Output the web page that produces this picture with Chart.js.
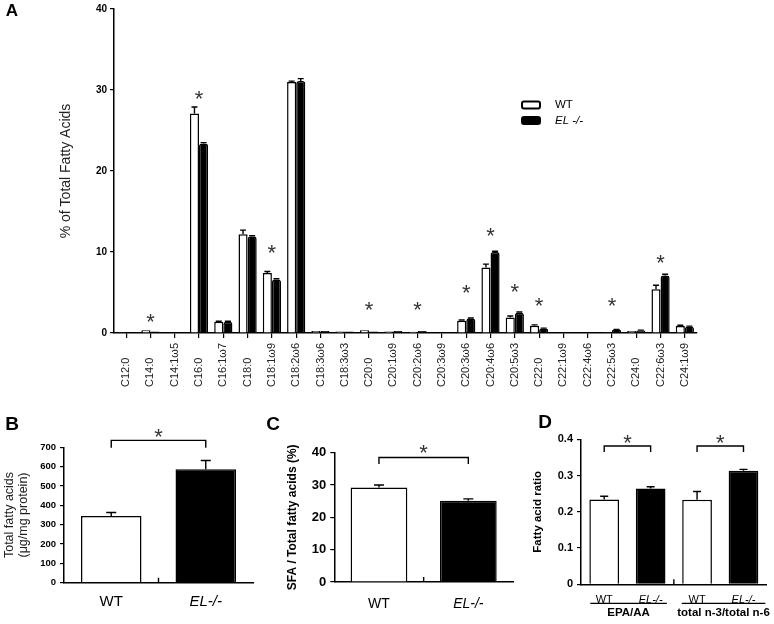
<!DOCTYPE html>
<html>
<head>
<meta charset="utf-8">
<script src="https://cdn.jsdelivr.net/npm/chart.js@4.4.1/dist/chart.umd.min.js"></script>
<style>
html, body { margin: 0; padding: 0; background: #fff; }
body { width: 774px; height: 624px; position: relative; overflow: hidden; }
canvas { position: absolute; }
</style>
</head>
<body>
<canvas id="chartA" width="774" height="395" style="left:0;top:0;width:774px;height:395px"></canvas>
<canvas id="chartB" width="258" height="229" style="left:0;top:395px;width:258px;height:229px"></canvas>
<canvas id="chartC" width="258" height="229" style="left:258px;top:395px;width:258px;height:229px"></canvas>
<canvas id="chartD" width="258" height="229" style="left:516px;top:395px;width:258px;height:229px"></canvas>
<script>
// --- Panel A: fatty acid composition (% of total) ---
const fattyAcids = ['C12:0', 'C14:0', 'C14:1ω5', 'C16:0', 'C16:1ω7', 'C18:0', 'C18:1ω9', 'C18:2ω6',
  'C18:3ω6', 'C18:3ω3', 'C20:0', 'C20:1ω9', 'C20:2ω6', 'C20:3ω9', 'C20:3ω6', 'C20:4ω6',
  'C20:5ω3', 'C22:0', 'C22:1ω9', 'C22:4ω6', 'C22:5ω3', 'C24:0', 'C22:6ω3', 'C24:1ω9'];
const wtPercent = [0.1, 0.35, 0, 27.1, 1.4, 12.2, 7.4, 31.0, 0.25, 0.2, 0.35, 0.2,
  0.15, 0.05, 1.5, 8.1, 1.9, 0.9, 0, 0, 0.1, 0.25, 5.4, 0.85];
const elPercent = [0.1, 0.2, 0, 23.4, 1.4, 11.9, 6.6, 31.1, 0.25, 0.2, 0.2, 0.25,
  0.25, 0.05, 1.8, 10.0, 2.5, 0.55, 0, 0, 0.4, 0.3, 7.1, 0.8];
const wtPercentSem = [0, 0, 0, 0.8, 0.05, 0.5, 0.2, 0.1, 0, 0, 0, 0,
  0, 0, 0.1, 0.4, 0.2, 0.1, 0, 0, 0, 0, 0.5, 0.1];
const elPercentSem = [0, 0, 0, 0.1, 0.05, 0.1, 0.1, 0.3, 0, 0, 0, 0,
  0, 0, 0.05, 0.1, 0.1, 0.05, 0, 0, 0.05, 0.05, 0.15, 0.05];
// asterisk height (in % units), null = not significant
const starA = [null, 2.0, null, 29.5, null, null, 10.5, null, null, null, 3.5, null,
  3.5, null, 5.6, 12.6, 5.7, 4.0, null, null, 4.0, null, 9.3, null];
const seriesNames = ['WT', 'EL -/-'];

// --- Panel B: total fatty acids ---
const genotypes = ['WT', 'EL-/-'];
const totalFA = [345, 587];
const totalFASem = [18, 45];

// --- Panel C: SFA / total ---
const sfaRatio = [29.2, 25.1];
const sfaRatioSem = [0.8, 0.6];

// --- Panel D: fatty acid ratios ---
const ratioLabels = ['WT', 'EL-/-', 'WT', 'EL-/-'];
const ratioValues = [0.234, 0.264, 0.233, 0.313];
const ratioSem = [0.009, 0.005, 0.023, 0.004];
const ratioGroups = ['EPA/AA', 'total n-3/total n-6'];

const FONT = "'Liberation Sans', Arial, Helvetica, sans-serif";
Chart.defaults.font.family = FONT;
Chart.defaults.color = '#000';
Chart.defaults.animation = false;

// error bars, asterisks, brackets, panel letters etc.
const decor = {
  id: 'decor',
  afterDraw(chart, args, o) {
    const ctx = chart.ctx, xs = chart.scales.x, ys = chart.scales.y;
    const bottom = chart.chartArea.bottom;
    ctx.save();
    ctx.strokeStyle = '#000';
    ctx.fillStyle = '#000';
    ctx.lineWidth = 1.4;

    // error bars (upper)
    (o.sem || []).forEach((sem, di) => {
      const ds = chart.data.datasets[di];
      chart.getDatasetMeta(di).data.forEach((bar, i) => {
        if (!sem[i]) return;
        const top = ys.getPixelForValue(ds.data[i] + sem[i]);
        ctx.beginPath();
        ctx.moveTo(bar.x, ys.getPixelForValue(ds.data[i]));
        ctx.lineTo(bar.x, top);
        ctx.moveTo(bar.x - o.cap, top);
        ctx.lineTo(bar.x + o.cap, top);
        ctx.stroke();
      });
    });

    const star = (px, v) => {
      ctx.font = '22px ' + FONT;
      ctx.fillStyle = '#333';
      ctx.textAlign = 'center';
      ctx.textBaseline = 'alphabetic';
      ctx.fillText('*', px, ys.getPixelForValue(v) + 12);
      ctx.fillStyle = '#000';
    };

    // asterisks above categories
    (o.stars || []).forEach((v, i) => {
      if (v !== null) star(xs.getPixelForTick(i), v);
    });

    // significance brackets
    (o.brackets || []).forEach(b => {
      const x1 = xs.getPixelForTick(b.a), x2 = xs.getPixelForTick(b.b);
      const yb = ys.getPixelForValue(b.y), yd = ys.getPixelForValue(b.drop);
      ctx.lineWidth = 1.4;
      ctx.beginPath();
      ctx.moveTo(x1, yd); ctx.lineTo(x1, yb); ctx.lineTo(x2, yb); ctx.lineTo(x2, yd);
      ctx.stroke();
      star((x1 + x2) / 2, b.star);
    });

    // small inward tick between categories
    if (o.midTick !== undefined) {
      const k = o.midTick;
      const mx = (xs.getPixelForTick(k) + xs.getPixelForTick(k + 1)) / 2;
      ctx.lineWidth = 1.4;
      ctx.beginPath();
      ctx.moveTo(mx, bottom); ctx.lineTo(mx, bottom - 5);
      ctx.stroke();
    }

    // rotated category labels, reading upward from a common baseline
    if (o.rotLabels) {
      ctx.font = o.rotLabels.size + 'px ' + FONT;
      ctx.fillStyle = '#222';
      ctx.textAlign = 'left';
      ctx.textBaseline = 'middle';
      chart.data.labels.forEach((lab, i) => {
        ctx.save();
        ctx.translate(xs.getPixelForTick(i), bottom + o.rotLabels.offset);
        ctx.rotate(-Math.PI / 2);
        ctx.fillText(lab, 0, 0);
        ctx.restore();
      });
      ctx.fillStyle = '#000';
    }

    // legend
    if (o.legend) {
      const L = o.legend;
      chart.data.datasets.forEach((ds, di) => {
        const yy = L.y + di * L.dy;
        ctx.fillStyle = ds.backgroundColor;
        ctx.strokeStyle = '#000';
        ctx.lineWidth = 2;
        ctx.beginPath();
        ctx.roundRect(L.x, yy - 3.5, 18, 7, 2);
        ctx.fill();
        ctx.stroke();
        ctx.fillStyle = '#000';
        ctx.font = (di === 1 ? 'italic ' : '') + '11.5px ' + FONT;
        ctx.textAlign = 'left';
        ctx.textBaseline = 'middle';
        ctx.fillText(ds.label, L.x + 33, yy);
      });
    }

    // group underlines and names (panel D)
    if (o.groups) {
      ctx.lineWidth = 1.2;
      o.groups.forEach(g => {
        const cw = xs.getPixelForTick(1) - xs.getPixelForTick(0);
        const x1 = xs.getPixelForTick(g.a) - g.padL * cw;
        const x2 = xs.getPixelForTick(g.b) + g.padR * cw;
        ctx.beginPath();
        ctx.moveTo(x1, bottom + o.lineOffset);
        ctx.lineTo(x2, bottom + o.lineOffset);
        ctx.stroke();
        ctx.font = 'bold 11.5px ' + FONT;
        ctx.textAlign = 'center';
        ctx.textBaseline = 'middle';
        ctx.fillText(g.text, (x1 + x2) / 2, bottom + o.textOffset);
      });
    }

    // panel letter
    if (o.letter) {
      ctx.font = 'bold ' + o.letter.size + 'px ' + FONT;
      ctx.textAlign = 'center';
      ctx.textBaseline = 'middle';
      ctx.fillText(o.letter.text, o.letter.x, o.letter.y);
    }
    ctx.restore();
  }
};

function yAxis(max, step, width, tickFont, pad, title) {
  return {
    min: 0, max: max,
    afterFit: s => { s.width = width; },
    ticks: { stepSize: step, font: tickFont, color: '#000', padding: pad },
    grid: { display: true, drawOnChartArea: false, drawTicks: true, tickLength: 4, color: '#000', lineWidth: 1.2 },
    border: { display: true, color: '#000', width: 1.5 },
    title: title
  };
}

function xAxisSimple(height, size, pad) {
  return {
    afterFit: s => { s.height = height; },
    grid: { display: false },
    border: { display: true, color: '#000', width: 1.5 },
    ticks: {
      color: '#000', padding: pad, maxRotation: 0, autoSkip: false,
      font: c => ({ family: FONT, size: size,
        style: (c.tick && String(c.tick.label).startsWith('EL')) ? 'italic' : 'normal' })
    }
  };
}

// ---------- Panel A ----------
new Chart(document.getElementById('chartA'), {
  type: 'bar',
  data: {
    labels: fattyAcids,
    datasets: [
      { label: seriesNames[0], data: wtPercent, backgroundColor: '#fff', borderColor: '#000', borderWidth: 1.5 },
      { label: seriesNames[1], data: elPercent, backgroundColor: '#000', borderColor: '#000', borderWidth: 1.5,
        borderRadius: { topLeft: 2.5, topRight: 2.5 } }
    ]
  },
  options: {
    responsive: false,
    layout: { padding: { left: 0, right: 77, top: 9, bottom: 0 } },
    datasets: { bar: { categoryPercentage: 0.75, barPercentage: 1.0 } },
    plugins: {
      legend: { display: false },
      tooltip: { enabled: false },
      decor: {
        sem: [wtPercentSem, elPercentSem], cap: 3,
        stars: starA,
        rotLabels: { offset: 54, size: 11 },
        legend: { x: 522, y: 105, dy: 15.5 },
        letter: { text: 'A', x: 12, y: 11, size: 17 }
      }
    },
    scales: {
      x: {
        afterFit: s => { s.height = 62; },
        grid: { display: true, drawOnChartArea: false, offset: false, drawTicks: true, tickLength: 5, color: '#000', lineWidth: 1.2 },
        border: { display: true, color: '#000', width: 1.5 },
        ticks: { display: false, autoSkip: false }
      },
      y: yAxis(40, 10, 114, { family: FONT, size: 10, weight: 'bold' }, 3,
        { display: true, text: '% of Total Fatty Acids', color: '#222',
          font: { family: FONT, size: 14 }, padding: { top: 57.6, bottom: 0 } })
    }
  },
  plugins: [decor]
});

// ---------- Panel B ----------
new Chart(document.getElementById('chartB'), {
  type: 'bar',
  data: {
    labels: genotypes,
    datasets: [{ data: totalFA, backgroundColor: ['#fff', '#000'], borderColor: '#000', borderWidth: 1.5 }]
  },
  options: {
    responsive: false,
    layout: { padding: { left: 0, right: 5, top: 52.3, bottom: 0 } },
    datasets: { bar: { categoryPercentage: 1.0, barPercentage: 0.64 } },
    plugins: {
      legend: { display: false },
      tooltip: { enabled: false },
      decor: {
        sem: [totalFASem], cap: 5,
        brackets: [{ a: 0, b: 1, y: 736, drop: 698, star: 781 }],
        midTick: 0,
        letter: { text: 'B', x: 12, y: 30, size: 19 }
      }
    },
    scales: {
      x: xAxisSimple(41.3, 15, 2),
      y: yAxis(700, 100, 64, { family: FONT, size: 9.5, weight: 'bold' }, 4,
        { display: true, text: ['Total fatty acids', '(μg/mg protein)'], color: '#222',
          font: { family: FONT, size: 12.5, lineHeight: 1.05 }, padding: { top: 3.4, bottom: 0 } })
    }
  },
  plugins: [decor]
});

// ---------- Panel C ----------
new Chart(document.getElementById('chartC'), {
  type: 'bar',
  data: {
    labels: genotypes,
    datasets: [{ data: sfaRatio, backgroundColor: ['#fff', '#000'], borderColor: '#000', borderWidth: 1.5 }]
  },
  options: {
    responsive: false,
    layout: { padding: { left: 0, right: 3, top: 57.7, bottom: 0 } },
    datasets: { bar: { categoryPercentage: 1.0, barPercentage: 0.635 } },
    plugins: {
      legend: { display: false },
      tooltip: { enabled: false },
      decor: {
        sem: [sfaRatioSem], cap: 5,
        brackets: [{ a: 0, b: 1, y: 38.5, drop: 36.5, star: 41.6 }],
        midTick: 0,
        letter: { text: 'C', x: 15, y: 30, size: 19 }
      }
    },
    scales: {
      x: xAxisSimple(42, 14, 6),
      y: yAxis(40, 10, 76.3, { family: FONT, size: 13, weight: 'bold' }, 4,
        { display: true, text: 'SFA / Total fatty acids (%)', color: '#000',
          font: { family: FONT, size: 12, weight: 'bold' }, padding: { top: 27.8, bottom: 0 } })
    }
  },
  plugins: [decor]
});

// ---------- Panel D ----------
new Chart(document.getElementById('chartD'), {
  type: 'bar',
  data: {
    labels: ratioLabels,
    datasets: [{ data: ratioValues, backgroundColor: ['#fff', '#000', '#fff', '#000'], borderColor: '#000', borderWidth: 1.5 }]
  },
  options: {
    responsive: false,
    layout: { padding: { left: 0, right: 7.3, top: 44.3, bottom: 0 } },
    datasets: { bar: { categoryPercentage: 1.0, barPercentage: 0.64 } },
    plugins: {
      legend: { display: false },
      tooltip: { enabled: false },
      decor: {
        sem: [ratioSem], cap: 4,
        brackets: [{ a: 0, b: 1, y: 0.3815, drop: 0.365, star: 0.404 },
                   { a: 2, b: 3, y: 0.3815, drop: 0.365, star: 0.404 }],
        midTick: 1,
        groups: [{ a: 0, b: 1, padL: 0.3, padR: 0.35, text: ratioGroups[0] },
                 { a: 2, b: 3, padL: 0.33, padR: 0.47, text: ratioGroups[1] }],
        lineOffset: 19, textOffset: 29,
        letter: { text: 'D', x: 29, y: 28, size: 19 }
      }
    },
    scales: {
      x: xAxisSimple(39.7, 11, 1),
      y: yAxis(0.4, 0.1, 65, { family: FONT, size: 11, weight: 'bold' }, 4,
        { display: true, text: 'Fatty acid ratio', color: '#000',
          font: { family: FONT, size: 11.5, weight: 'bold' }, padding: { top: 15.1, bottom: 0 } })
    }
  },
  plugins: [decor]
});
</script>
</body>
</html>
